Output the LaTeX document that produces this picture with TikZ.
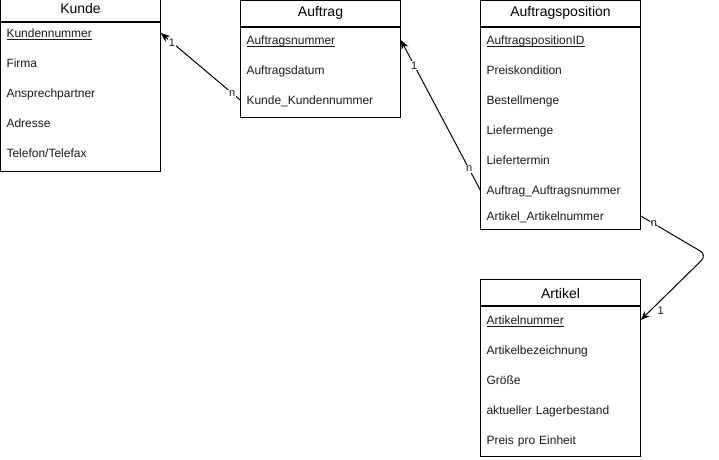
\documentclass[tikz,border=0pt]{standalone}
\usepackage{fontspec}
\setmainfont{Liberation Sans}
\usetikzlibrary{arrows.meta}

\newcommand{\pkey}[1]{\underline{\smash{#1}}}

\tikzset{
  etitle/.style={draw, line width=0.75pt, minimum width=120pt, minimum height=19.5pt, inner sep=0pt, font=\fontsize{10.5}{12}\selectfont},
  ebody/.style={draw, line width=0.75pt, minimum width=120pt, inner sep=0pt, anchor=north},
  attr/.style={text width=111pt, inner xsep=4.5pt, inner ysep=0pt, text height=8pt, text depth=1pt, align=left, font=\fontsize{9}{11}\selectfont, text=black!90},
  rel/.style={line width=0.75pt, -{Stealth[length=7pt,width=5.5pt]}},
  card/.style={fill=white, inner sep=0.6pt, font=\fontsize{8.25}{10}\selectfont, text=black!90},
}

\begin{document}
\begin{tikzpicture}[x=0.75pt, y=-0.75pt]
\useasboundingbox (0,0) rectangle (719,460);
\clip (0,0) rectangle (719,460);

% Kunde
\node[etitle] (kunde) at (80.5,8.5) {Kunde};
\node[ebody, minimum height=111.75pt] (kundeBody) at (kunde.south) {};
\node[attr] (kNr) at (80.5,33) {\pkey{Kundennummer}};
\node[attr] (kFirma) at (80.5,63) {Firma};
\node[attr] (kAnspr) at (80.5,93) {Ansprechpartner};
\node[attr] (kAdr) at (80.5,123) {Adresse};
\node[attr] (kTel) at (80.5,153) {Telefon/Telefax};

% Auftrag
\node[etitle] (auftrag) at (320.5,13.25) {Auftrag};
\node[ebody, minimum height=67.5pt] (auftragBody) at (auftrag.south) {};
\node[attr] (aNr) at (320.5,40) {\pkey{Auftragsnummer}};
\node[attr] (aDatum) at (320.5,70) {Auftragsdatum};
\node[attr] (aKdNr) at (320.5,100) {Kunde\_Kundennummer};

% Auftragsposition
\node[etitle] (apos) at (560.5,13.25) {Auftragsposition};
\node[ebody, minimum height=151.5pt] (aposBody) at (apos.south) {};
\node[attr] (apID) at (560.5,40) {\pkey{AuftragspositionID}};
\node[attr] (apPreis) at (560.5,70) {Preiskondition};
\node[attr] (apBest) at (560.5,100) {Bestellmenge};
\node[attr] (apLiefm) at (560.5,130) {Liefermenge};
\node[attr] (apLieft) at (560.5,160) {Liefertermin};
\node[attr] (apAuftr) at (560.5,190) {Auftrag\_Auftragsnummer};
\node[attr] (apArt) at (560.5,216) {Artikel\_Artikelnummer};

% Artikel
\node[etitle] (artikel) at (560.5,293) {Artikel};
\node[ebody, minimum height=111.75pt] (artikelBody) at (artikel.south) {};
\node[attr] (artNr) at (560.5,320) {\pkey{Artikelnummer}};
\node[attr] (artBez) at (560.5,350) {Artikelbezeichnung};
\node[attr] (artGr) at (560.5,380) {Größe};
\node[attr] (artLager) at (560.5,410) {aktueller Lagerbestand};
\node[attr] (artPreis) at (560.5,440) {Preis pro Einheit};

% Beziehungen
\coordinate (bend) at (707,255);
\draw[rel] (aKdNr.west) -- node[card,pos=0.1]{n} node[card,pos=0.86]{1} (kNr.east);
\draw[rel] (apAuftr.west) -- node[card,pos=0.14]{n} node[card,pos=0.83]{1} (aNr.east);
\draw[rel, rounded corners=6pt] (apArt.east) -- node[card,pos=0.2]{n} (bend) -- node[card,pos=0.85,xshift=7.5pt]{1} (artNr.east);

\end{tikzpicture}
\end{document}
